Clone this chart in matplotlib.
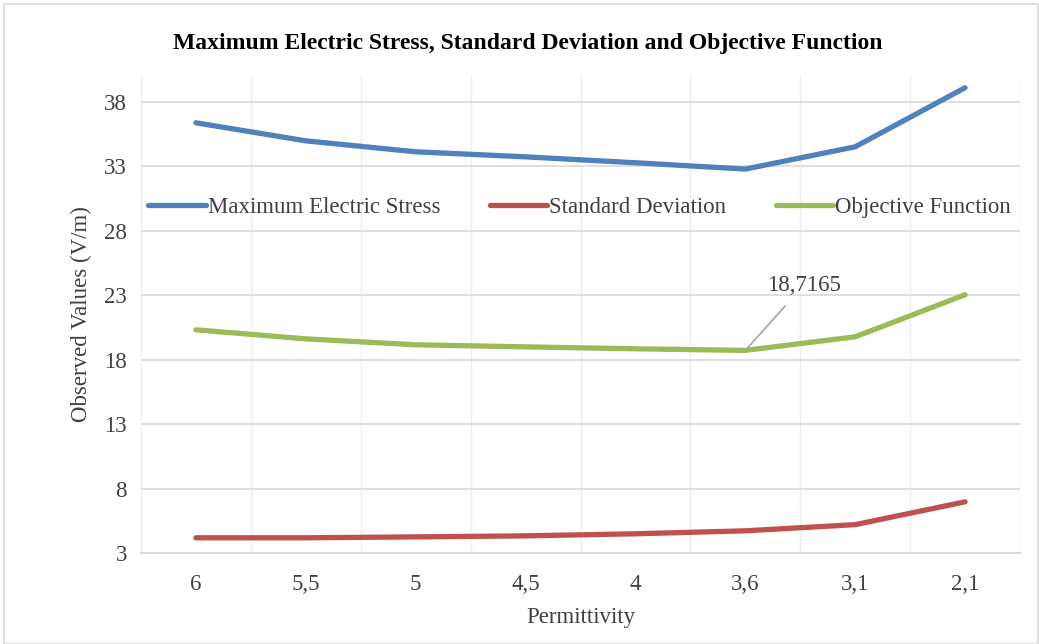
import matplotlib.pyplot as plt
from matplotlib.patches import Rectangle
import numpy as np

plt.rcParams['font.family'] = ['Liberation Serif', 'DejaVu Serif']

permittivity = ['6', '5,5', '5', '4,5', '4', '3,6', '3,1', '2,1']
max_stress = [36.37, 34.97, 34.12, 33.73, 33.27, 32.78, 34.51, 39.09]
std_dev = [4.18, 4.18, 4.25, 4.33, 4.49, 4.72, 5.20, 6.97]
objective = [20.31, 19.61, 19.15, 18.99, 18.84, 18.7165, 19.77, 23.03]

fig = plt.figure(figsize=(10.39, 6.44), dpi=100)
ax = fig.add_axes([141 / 1039, 1 - 553 / 644, 879 / 1039, 477 / 644])

# chart area border
fig.patches.append(Rectangle((4 / 1039, 0), 1034 / 1039, 640 / 644, transform=fig.transFigure,
                             fill=False, edgecolor='#d9d9d9', lw=1.2))

x = np.arange(len(permittivity))
ax.plot(x, max_stress, color='#4f81bd', lw=3.8, solid_capstyle='round', label='Maximum Electric Stress')
ax.plot(x, std_dev, color='#c0504d', lw=3.8, solid_capstyle='round', label='Standard Deviation')
ax.plot(x, objective, color='#9bbb59', lw=3.8, solid_capstyle='round', label='Objective Function')

ax.set_xlim(-0.5, 7.5)
ax.set_ylim(3, 40)
ax.set_yticks(np.arange(3, 39, 5))
ax.set_xticks(x)
ax.set_xticklabels(permittivity)
ax.set_xticks(np.arange(-0.5, 7.6, 0.5), minor=True)

ax.grid(axis='y', which='major', color='#d9d9d9', lw=1.2)
ax.grid(axis='x', which='minor', color='#eeeeee', lw=1.0)
ax.set_axisbelow(True)
for s in ['top', 'right', 'left']:
    ax.spines[s].set_visible(False)
ax.spines['bottom'].set_color('#d9d9d9')
ax.spines['bottom'].set_linewidth(1.5)
ax.tick_params(axis='both', which='both', length=0, labelsize=16.5, colors='#404040')
ax.tick_params(axis='x', pad=15)
ax.tick_params(axis='y', pad=10)

ax.set_xlabel('Permittivity', fontsize=16.5, color='#404040', labelpad=9)
ax.set_ylabel('Observed Values (V/m)', fontsize=16.5, color='#404040', labelpad=9)
fig.text(528 / 1039, 1 - 44 / 644, 'Maximum Electric Stress, Standard Deviation and Objective Function',
         ha='center', va='center', fontsize=17, fontweight='bold')

ax.annotate('18,7165', xy=(5, objective[5]), xytext=(5.53, 23.75),
            fontsize=16.5, color='#404040', ha='center', va='center',
            arrowprops=dict(arrowstyle='-', color='#a6a6a6', lw=1.2, shrinkA=7, shrinkB=0))

ax.legend(loc='center', bbox_to_anchor=(0.499, 0.725), ncol=3, frameon=False, fontsize=16.5,
          handlelength=2.5, handletextpad=0.1, columnspacing=2.15, labelcolor='#404040')

fig.savefig('out.png', dpi=100)
